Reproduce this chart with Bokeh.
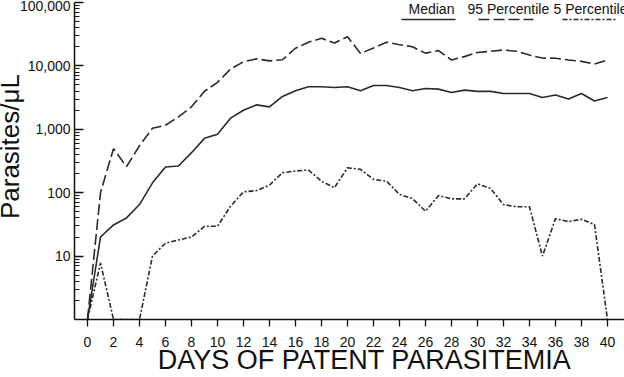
import math
from bokeh.plotting import figure
from bokeh.models import (Range1d, FixedTicker, NumeralTickFormatter, Label, Arrow, Title)
from bokeh.embed import file_html
from bokeh.resources import INLINE

# ---- data ----
days = list(range(0, 41))
median = [1, 20, 31, 40, 65, 143, 254, 264, 428, 720, 835, 1500, 2000, 2430, 2260,
          3300, 4060, 4680, 4700, 4570, 4680,
          4060, 4900, 4900, 4570, 4060, 4390, 4300, 3800, 4150, 3960, 3960, 3670,
          3670, 3670, 3170, 3480, 3000, 3670, 2800, 3170]
p95 = [1, 100, 495, 258, 550, 1040, 1160, 1570, 2260, 3980, 5500, 8900, 11600, 12900,
       12000, 12500, 19000, 23600, 27200, 23000, 28900,
       15700, 19200, 23600, 21600, 20000, 15900, 17400, 12400, 14000, 16300, 17000,
       17800, 17000, 14800, 13300, 13200, 12400, 11800, 10700, 12400]
p5 = [1, 7.8, 1, 1, 1, 10, 16, 18, 20, 29.5, 29.5, 61, 103, 108, 132, 207, 220, 228,
      152, 120, 247,
      233, 162, 152, 94, 81, 51, 90, 80, 80, 138, 117, 65, 60, 60, 10, 39, 35, 38,
      31.6, 1]
x_ticks = list(range(0, 41, 2))
y_ticks = [10, 100, 1000, 10000, 100000]
series_names = ["Median", "95 Percentile", "5 Percentile"]
x_title = "DAYS OF PATENT PARASITEMIA"
y_title = "Parasites/\u03bcL"

FONT = "Liberation Sans"
INK = "#2a2a2a"
LW = 1.6
DASH95 = "11 4"
DASH5 = "5 2 2 2"
NB = "\u00a0"

p = figure(width=624, height=377, output_backend="svg", toolbar_location=None,
           y_axis_type="log", x_range=Range1d(-1.0, 41.31),
           y_range=Range1d(1, 100000),
           min_border_left=74, min_border_right=0, min_border_top=2,
           min_border_bottom=58)
p.outline_line_color = None
p.xgrid.visible = False
p.ygrid.visible = False
p.background_fill_color = "white"
p.border_fill_color = "white"

p.line(days, median, line_color=INK, line_width=LW)
p.line(days, p95, line_color=INK, line_width=LW, line_dash=DASH95)
p.line(days, p5, line_color=INK, line_width=LW, line_dash=DASH5)

# x axis
xa = p.xaxis[0]
xa.ticker = FixedTicker(ticks=x_ticks, minor_ticks=[])
xa.major_tick_in = 0
xa.major_tick_out = 7
xa.minor_tick_in = 0
xa.minor_tick_out = 0
xa.major_label_standoff = 10
xa.major_label_text_font = FONT
xa.major_label_text_font_size = "14px"
xa.major_label_text_color = "#111111"
xa.axis_line_color = "#111111"
xa.axis_line_width = 1.5
xa.major_tick_line_color = "#111111"
xa.major_tick_line_width = 1.3
xa.axis_label = NB * 4 + x_title
xa.axis_label_text_font = FONT
xa.axis_label_text_font_size = "27px"
xa.axis_label_text_font_style = "normal"
xa.axis_label_text_color = "#111111"
xa.axis_label_standoff = -5

# y axis
minor = [m * 10 ** k for k in range(0, 5) for m in range(2, 10)]
ya = p.yaxis[0]
ya.ticker = FixedTicker(ticks=y_ticks, minor_ticks=minor)
ya.formatter = NumeralTickFormatter(format="0,0")
ya.major_tick_in = 9
ya.major_tick_out = 0
ya.minor_tick_in = 5
ya.minor_tick_out = 0
ya.major_label_standoff = 4
ya.major_label_text_font = FONT
ya.major_label_text_font_size = "14px"
ya.major_label_text_color = "#111111"
ya.axis_line_color = "#111111"
ya.axis_line_width = 1.5
ya.major_tick_line_color = "#111111"
ya.major_tick_line_width = 1.3
ya.minor_tick_line_color = "#111111"
ya.minor_tick_line_width = 1.0

# y axis title as a side-panel title
p.add_layout(Title(text=NB * 4 + y_title, text_font=FONT, text_font_size="26px",
                   text_font_style="normal", text_color="#111111",
                   align="center", vertical_align="middle",
                   standoff=-19), "left")

# custom legend: text above a line sample
leg_text_x = [334, 393, 479]
leg_line_x = [(327, 381), (404, 459), (488, 543)]
dashes = ["solid", DASH95, DASH5]
for name, tx, (lx0, lx1), d in zip(series_names, leg_text_x, leg_line_x, dashes):
    p.add_layout(Label(x=tx, y=311, x_units="screen", y_units="screen",
                       text=name, text_font=FONT, text_font_size="14px",
                       text_baseline="alphabetic", text_color="#111111"))
    p.add_layout(Arrow(x_start=lx0, y_start=300, x_end=lx1, y_end=300,
                       start_units="screen", end_units="screen",
                       start=None, end=None, line_color=INK, line_width=LW,
                       line_dash=d))

open("out.html", "w").write(file_html(p, INLINE))
